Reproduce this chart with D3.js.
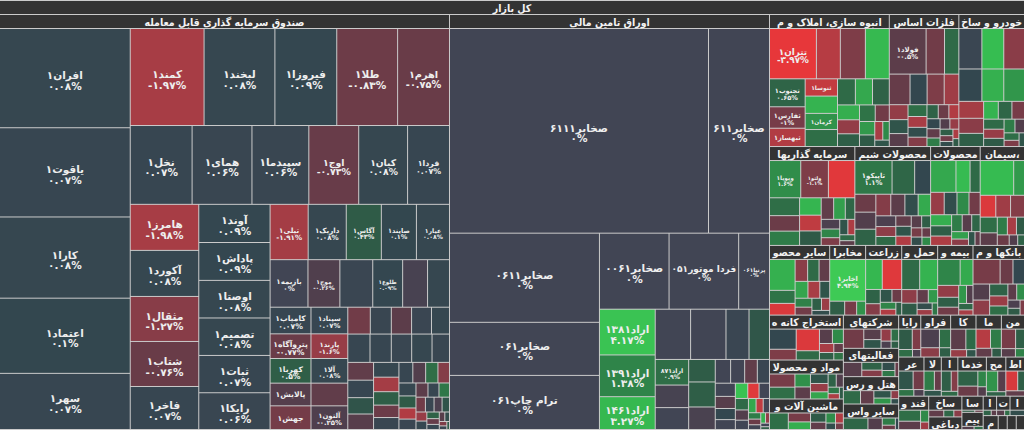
<!DOCTYPE html>
<html lang="fa">
  <head>
    <meta charset="utf-8" />
    <title>نقشه بازار</title>
    <script src="https://cdn.jsdelivr.net/npm/d3@7"></script>
    <style>
      body { margin: 0; background: #fff; }
      svg { display: block; font-family: "DejaVu Sans", sans-serif; }
      .hd { font-family: "DejaVu Sans Condensed", "DejaVu Sans", sans-serif; font-stretch: condensed; }
    </style>
  </head>
  <body>
    <script>
      //Width and height
      var w = 1024;
      var h = 430;

      var rootName = "کل بازار";

      var groupNames = [
        "صندوق سرمایه گذاری قابل معامله", "اوراق تامین مالی",
        "انبوه سازی، املاک و مستغلات", "فلزات اساسی", "خودرو و ساخت قطعات",
        "سرمایه گذاریها", "محصولات شیمیایی", "محصولات غذایی و آشامیدنی به جز قند و شکر", "سیمان، آهک و گچ",
        "سایر محصولات کانی غیرفلزی", "مخابرات", "زراعت و خدمات وابسته", "حمل ونقل، انبارداری و ارتباطات",
        "بیمه وصندوق بازنشستگی به جزتامین اجتماعی", "بانکها و موسسات اعتباری", "استخراج کانه های فلزی",
        "مواد و محصولات دارویی", "ماشین آلات و تجهیزات", "شرکتهای چند رشته ای صنعتی",
        "فعالیتهای کمکی به نهادهای مالی واسط", "هتل و رستوران", "سایر واسطه گریهای مالی",
        "رایانه و فعالیتهای وابسته به آن", "فراورده های نفتی، کک و سوخت هسته ای", "کاشی و سرامیک",
        "ماشین آلات و دستگاههای برقی", "منسوجات", "عرضه برق، گاز، بخاروآب گرم", "لاستیک و پلاستیک",
        "استخراج نفت گاز و خدمات جنبی", "خدمات فنی و مهندسی", "محصولات کاغذی", "اطلاعات و ارتباطات",
        "قند و شکر", "ساخت محصولات فلزی", "دباغی، پرداخت چرم", "ساخت دستگاهها و وسایل ارتباطی",
        "پیمانکاری صنعتی", "استخراج ذغال سنگ", "تولید محصولات کامپیوتری", "انتشار، چاپ و تکثیر",
        "محصولات چوبی", "فعالیت های هنری", "تجارت عمده فروشی", "لوازم خانگی"
      ];

      // symbol names per group (missing = unlabeled cell)
      var leafNames = [
        ["افران۱", "یاقوت۱", "کارا۱", "اعتماد۱", "سهر۱", "کمند۱", "لبخند۱", "فیروزا۱", "طلا۱", "اهرم۱",
         "نخل۱", "همای۱", "سپیدما۱", "اوج۱", "کیان۱", "فردا۱", "هامرز۱", "آکورد۱", "مثقال۱", "شتاب۱",
         "فاخر۱", "آوند۱", "پاداش۱", "اوصتا۱", "تصمیم۱", "ثبات۱", "رایکا۱", "تیلی۱", "داریک۱", "آگاس۱",
         "صایند۱", "عیار۱", "بازیمه۱", "موج۱", "", "طلوع۱", "", "پایا۱", "کامیاب۱", "پتروآگاه۱",
         "کهربا۱", "پالایش۱", "جهش۱", "سپناد۱", "پارند۱", "آلا۱", "", "آلتون۱", "توان۱", "",
         "", "", "", "درین۱", "رابین۱", "", "کاج۱", "", "", "",
         "", "", "", "", "", "تاب۱"],
        ["صخابر۶۱۱۱", "صخابر۶۱۱", "صخابر۰۶۱۱", "صخابر۰۶۱", "ترام چاپ۰۶۱", "صخابر۰۰۶۱", "فردا موتور۰۵۱",
         "پرنیا۰۶۱", "اراد۱۳۸۱", "اراد۱۳۹۱", "اراد۱۴۶۱", "", "", "", "اراد۲۴۱", "اراد۸۷۱"],
        ["تتران۱", "", "", "", "تجنوب۱", "ثفارس۱", "ثبهساز۱", "ثنوسا۱", "", "کرمان۱"],
        ["فولاد۱", "", "", "", "", "ارفع۱"],
        ["", "", "", "", "فنر۱", "ورنا۱"],
        ["وپویا۱", "ولتو۱"],
        ["تاپیکو۱"],
        ["غدیس۱"],
        [], [],
        ["اخابر۱"],
        [], [], [],
        ["", "", "", "", "دی۱"],
        ["", "فزرا۱"]
      ];

      var leafValues = [
        [12870, 11570, 10530, 9750, 7280, 7104, 6816, 5952, 5856, 4992,
         4836, 4680, 4446, 3900, 3822, 3276, 3130, 3130, 3060, 3060,
         2924, 2700, 2680, 2660, 2650, 2640, 2600, 2090, 2090, 1925,
         1925, 1815, 1786, 1504, 1551, 1410, 1175, 1034, 1080, 1000,
         1000, 920, 960, 972, 900, 900, 828, 864, 600, 560,
         540, 530, 480, 624, 598, 572, 572, 490, 455, 447,
         418, 396, 372, 365, 338, 312, 301, 284, 262, 251,
         236, 219, 204, 188, 176, 169, 155, 148, 139, 127,
         118, 109, 98, 91, 82, 71, 63, 52, 44, 33, 27, 21],
        [52577, 12383, 13261, 7897, 8046, 5250, 5250, 2325, 2530, 2310,
         1815, 1763, 1763, 1148, 1020, 850, 748, 726, 594, 660,
         594, 362, 331, 298, 287, 263, 241, 222, 197, 188,
         171, 158, 149, 133, 121, 108, 101, 89, 78, 69,
         58, 49, 41, 31, 24],
        [2530, 1290, 1350, 1290, 1070, 820, 700, 600, 600, 560, 590, 500, 480, 470, 350, 330, 300, 280, 250, 220, 190, 160, 130, 100],
        [1800, 900, 700, 680, 560, 560, 480, 300, 280, 260, 240, 220, 200, 190, 170, 160, 150, 140, 130, 120, 110, 100, 90, 80, 70, 60, 50],
        [1000, 950, 900, 800, 760, 720, 450, 400, 350, 280, 260, 240, 220, 200, 180, 160, 140, 120, 100, 80],
        [1300, 1150, 1100, 600, 520, 480, 420, 380, 350, 300, 280, 230, 200, 180, 160, 140, 120, 100, 80],
        [1400, 850, 600, 420, 400, 380, 360, 340, 320, 300, 240, 220, 200, 180, 170, 160, 140, 120, 110, 100, 90, 80],
        [900, 500, 360, 340, 320, 300, 280, 260, 240, 220, 200, 180, 160, 140, 120, 100, 80],
        [1300, 420, 380, 360, 340, 300, 240, 200, 180, 160, 140, 100, 80],
        [950, 400, 360, 330, 300, 280, 260, 240, 200, 180, 160, 140, 120, 100],
        [1800, 250, 200, 150],
        [600, 700, 250, 200, 180, 150, 130, 110, 90],
        [650, 650, 250, 220, 180, 150, 120, 100, 80],
        [700, 400, 300, 250, 200, 170, 140, 110, 90],
        [800, 380, 340, 320, 300, 260, 220, 200, 170, 150, 120, 100, 80],
        [750, 400, 700, 300, 260, 220, 180, 150, 120, 100],
        [500, 450, 300, 280, 250, 220, 190, 160, 140, 110, 90, 70],
        [550, 350, 300, 250, 200, 170, 140, 110, 90],
        [650, 300, 250, 200, 150, 120, 90],
        [500, 300, 250, 200, 150, 100],
        [450, 350, 250, 200, 120, 80],
        [600, 350, 200, 120, 80],
        [400, 250, 150, 90],
        [500, 300, 250, 150],
        [450, 300, 170, 100],
        [400, 300, 200, 120],
        [400, 250, 170, 110],
        [400, 300, 150, 100],
        [300, 200, 150],
        [300, 200, 120],
        [450, 300, 200, 120],
        [350, 250, 130],
        [350, 200, 150],
        [400, 300, 160, 100],
        [300, 200, 160],
        [250, 150],
        [200, 130],
        [200, 150],
        [150, 100],
        [150, 100],
        [270],
        [120, 80],
        [120],
        [120],
        [110]
      ];

      // daily change, percent
      var leafChanges = [
        [0.08, 0.07, 0.08, 0.1, 0.07, -1.97, 0.08, 0.09, -0.83, -0.75,
         0.07, 0.06, 0.06, -0.73, 0.08, 0.07, -1.98, 0.08, -1.27, -0.76,
         0.07, 0.09, 0.09, 0.08, 0.08, 0.07, 0.06, -1.91, 0.08, 0.43,
         0.1, 0.08, 0, -0.26, 0.05, 0.09, -0.12, 0.08, 0.07, -0.77,
         0.5, -0.35, -0.95, 0.07, -1.6, 0.08, -0.6, -0.25, -0.9, 0.06,
         -0.5, 0.05, 0.08, 0.07, 0.07, 0.06, 0.08, 0.06, -0.6, 0.07,
         0.3, -0.4, 0.08, -1.9, 0.5, -0.8, 0.06, 0.07, -0.3, 0.9,
         -1.2, 0.08, 0.4, -2.2, 0.05, -0.5, 0.07, 1.1, -0.9, 0.06,
         -0.2, 0.3, -1.6, 0.08, 0.6, -0.7, 0.07, -0.4, 0.2, -1.1, 0.05, 0.4],
        [0, 0, 0, 0, 0, 0, 0, 0, 4.17, 1.38,
         3.27, 0, 0, 0.05, 0.34, 0.9, -0.1, 0, 0.45, 0.5,
         -0.15, 0, 0, -0.6, 0.05, 0, -0.4, 0.1, 0, 4.0,
         -3.5, 0, 0.8, -0.3, 0, 2.5, -2.5, 0, 1.2, -0.8,
         0, 3.0, -1.5, 0, 0.5],
        [-3.97, -2.3, -1.1, 3.3, 0.65, -1.0, -2.2, -2.6, 3.0, 1.8, 0.9, 0.8, 2.5, 0.6, 2.8, -1.5, 0.5, 1.0, -0.9, 2.0, 0.4, -2.0, 1.5, 0.3],
        [-0.5, -0.9, 0.8, -0.7, 0.1, -1.1, -1.8, -1.5, 0.3, -0.4, 0.9, -2.0, 0.2, -1.2, 0.6, -0.8, -2.2, 0.1, -0.6, 1.2, -0.3, -1.6, 0.5, -0.9, 0.2, -2.1, 0.4],
        [0.05, 3.5, -1.3, 0.1, 2.9, 1.9, -1.9, -1.3, 0.5, 3.0, 0.7, -1.0, 0.8, -1.6, 0.4, 1.2, -0.3, 0.9, -1.1, 0.3],
        [1.6, -1.1, -3.6, 0.9, -0.8, 1.2, 3.1, -2.5, 0.4, -0.6, 2.2, 0.7, -0.2, 1.4, -1.1, 0.3, -2.1, 0.8, -0.5],
        [1.1, 0.7, 0.1, -0.8, -0.3, 0.6, -1.2, -0.5, 0.2, 2.6, -0.2, -1.4, 0.8, -0.6, 0.3, -2.2, -0.4, 0.5, -1.0, 0.2, -0.7, 1.5],
        [2.5, 3.4, 0.8, -1.6, 0.2, 1.5, -0.9, 2.8, 0.5, -2.1, 1.2, -0.4, 0.7, 2.2, -1.3, 0.3, -0.6],
        [3.4, 2.0, -3.3, -1.8, -1.2, 0.9, -0.5, 1.2, -2.0, 0.4, -0.8, -0.3, 0.6],
        [2.9, 1.0, -3.2, -1.3, 0.8, -0.6, 2.4, -2.0, 0.3, 1.3, -0.9, 0.5, -1.7, 0.2],
        [4.94, 0.5, -1.0, 1.8],
        [3.2, -3.5, 0.6, -1.2, 0.3, -0.8, 1.4, -2.2, 0.5],
        [0.8, 3.0, -1.4, 0.4, -0.6, 2.0, 0.2, -1.8, 1.1],
        [1.4, 2.6, -1.5, 0.5, -0.9, 1.9, -0.3, 0.7, -2.0],
        [-1.0, -0.8, 0.1, -0.3, -1.4, 0.6, -1.7, 0.9, -0.5, 1.6, -0.2, 0.4, -1.1],
        [0.1, -1.1, -3.3, 0.8, -0.4, 1.5, -2.0, 0.5, -0.7, 1.0],
        [-1.0, 0.9, 1.7, -0.5, 0.3, -1.6, 2.4, 0.6, -0.3, 1.1, -2.1, 0.4],
        [0.9, -1.0, 2.8, 0.4, -0.6, 1.6, -2.2, 0.2, -0.9],
        [-0.9, -0.4, 0.3, -1.5, 0.9, -0.2, 0.5],
        [-0.4, 0.6, -1.2, 0.2, 1.1, -0.7],
        [0.8, -0.6, 0.3, 1.9, -1.4, 0.2],
        [0.7, -0.3, 1.2, -0.8, 0.1],
        [0.4, -1.1, 0.9, -0.2],
        [-0.2, 0.9, -1.3, 0.5],
        [-0.5, 0.8, -1.6, 0.3],
        [-2.3, 1.2, -0.6, 0.4],
        [-1.0, 0.5, -0.4, 1.3],
        [0.3, -0.9, 1.0, -0.2],
        [1.2, -0.7, 0.3],
        [0.5, -1.2, 0.8],
        [0.6, -0.8, 1.4, -0.3],
        [1.8, -0.4, 0.6],
        [-3.0, 0.5, -0.6],
        [0.9, -0.5, 1.5, -1.8],
        [-0.6, 0.7, -1.3],
        [-0.9, 0.4],
        [0.5, -0.7],
        [-0.3, 0.8],
        [0.6, -0.5],
        [-0.4, 0.9],
        [0.2],
        [-1.0, 0.3],
        [0.5],
        [-0.6],
        [0.2]
      ];

      var color = d3
        .scaleLinear()
        .domain([-4, -3, -2, -1.3, -0.8, -0.3, 0, 0.1, 0.4, 0.9, 1.5, 2.5, 3.5, 5])
        .range(["#e8373a", "#d63a3d", "#a83d45", "#8a3d48", "#6b3c48", "#523e4c", "#414554",
                "#33474f", "#2f5a47", "#2f6e47", "#2f8a49", "#34a84e", "#36bd51", "#3ecb55"])
        .clamp(true);

      var faDigits = "۰۱۲۳۴۵۶۷۸۹";
      function fmt(c) {
        var s = String(Math.round(c * 100) / 100).replace(/[0-9]/g, function (d) {
          return faDigits[d];
        });
        return s + "%";
      }

      // squarify with the golden ratio
      var phi = (1 + Math.sqrt(5)) / 2;
      function greedyRow(nodes, i0, value, area, span) {
        var alpha = area / (value * span * span * phi);
        var i1 = i0, sum = nodes[i1++].value, lo = sum, hi = sum;
        var best = Math.max(hi / (sum * sum * alpha), (sum * sum * alpha) / lo);
        for (; i1 < nodes.length; ++i1) {
          var v = nodes[i1].value, s = sum + v;
          var l = Math.min(lo, v), hh = Math.max(hi, v), beta = s * s * alpha;
          var m = Math.max(hh / beta, beta / l);
          if (m > best) break;
          sum = s; lo = l; hi = hh; best = m;
        }
        return { i1: i1, sum: sum, best: best };
      }
      function tile(parent, x0, y0, x1, y1) {
        var nodes = parent.children, value = parent.value, i0 = 0, n = nodes.length;
        while (i0 < n) {
          var dx = x1 - x0, dy = y1 - y0, dice, r;
          if (parent.depth === 0) {
            // top level: take whichever orientation gives squarer cells
            var a = greedyRow(nodes, i0, value, dx * dy, dx);
            var b = greedyRow(nodes, i0, value, dx * dy, dy);
            dice = a.best <= b.best;
            r = dice ? a : b;
          } else {
            dice = dx < dy * 1.08;
            r = greedyRow(nodes, i0, value, dx * dy, dice ? dx : dy);
          }
          var row = { value: r.sum, children: nodes.slice(i0, r.i1) };
          if (dice) d3.treemapDice(row, x0, y0, x1, dy ? (y0 += (dy * r.sum) / value) : y1);
          else d3.treemapSlice(row, x0, y0, dx ? (x0 += (dx * r.sum) / value) : x1, y1);
          value -= r.sum;
          i0 = r.i1;
        }
      }

      var data = {
        name: rootName,
        children: groupNames.map(function (g, i) {
          return {
            name: g,
            children: leafValues[i].map(function (v, j) {
              return { name: (leafNames[i] && leafNames[i][j]) || "", value: v, change: leafChanges[i][j] };
            }),
          };
        }),
      };

      var root = d3.hierarchy(data).sum(function (d) { return d.value || 0; });

      d3.treemap()
        .tile(tile)
        .size([w, h - 2])
        .paddingInner(1)
        .paddingTop(function (d) { return d.depth < 2 ? 14 : 0; })(root);

      //Create SVG element
      var svg = d3.select("body").append("svg").attr("width", w).attr("height", h);

      svg.append("rect").attr("width", w).attr("height", h).attr("fill", "#cbcbcb");

      var chart = svg.append("g").attr("transform", "translate(0,1)");

      //Root header
      chart.append("rect")
        .attr("x", root.x0).attr("y", root.y0)
        .attr("width", root.x1 - root.x0).attr("height", 13)
        .attr("fill", "#333333");
      chart.append("text")
        .attr("class", "hd")
        .attr("x", (root.x0 + root.x1) / 2).attr("y", root.y0 + 10.5)
        .attr("text-anchor", "middle").attr("font-size", "10.5px").attr("font-weight", "bold")
        .attr("fill", "#f2f2f2")
        .text(rootName);

      //Cells
      chart.append("g")
        .selectAll("rect")
        .data(root.leaves())
        .enter()
        .append("rect")
        .attr("x", function (d) { return d.x0; })
        .attr("y", function (d) { return d.y0; })
        .attr("width", function (d) { return Math.max(0, d.x1 - d.x0); })
        .attr("height", function (d) { return Math.max(0, d.y1 - d.y0); })
        .attr("fill", function (d) { return color(d.data.change); });

      //Group headers
      var hdr = chart.append("g");
      root.children.forEach(function (g) {
        var bw = g.x1 - g.x0, bh = Math.min(13, g.y1 - g.y0);
        if (bw <= 0 || bh <= 0) return;
        hdr.append("rect")
          .attr("x", g.x0).attr("y", g.y0).attr("width", bw).attr("height", bh)
          .attr("fill", "#333333");
        if (bw < 7 || bh < 10) return;
        var name = g.data.name;
        var t = hdr.append("text")
          .attr("class", "hd")
          .attr("x", (g.x0 + g.x1) / 2).attr("y", g.y0 + 10.5)
          .attr("text-anchor", "middle").attr("font-size", "10.5px").attr("font-weight", "bold")
          .attr("fill", "#f2f2f2")
          .text(name);
        while (name.length > 1 && t.node().getComputedTextLength() > bw - 3) {
          name = name.slice(0, -1);
          t.text(name);
        }
        if (t.node().getComputedTextLength() > bw) t.remove();
      });

      //Labels
      var labels = chart.append("g").attr("fill", "#eeeeee").attr("font-weight", "bold").attr("text-anchor", "middle");
      root.leaves().forEach(function (d) {
        if (!d.data.name) return;
        var cw = d.x1 - d.x0, ch = d.y1 - d.y0;
        var fs = Math.min(10.5, cw / 5.2, ch / 2.6);
        if (fs < 5) return;
        var cx = (d.x0 + d.x1) / 2, cy = (d.y0 + d.y1) / 2;
        var t = labels.append("text").attr("x", cx).attr("font-size", fs + "px").text(d.data.name);
        var len = t.node().getComputedTextLength();
        if (len > cw - 4) {
          fs = (fs * (cw - 4)) / len;
          t.attr("font-size", fs + "px");
        }
        if (fs < 4.5) { t.remove(); return; }
        var two = ch >= fs * 3;
        t.attr("y", two ? cy + fs * 0.1 : cy + fs * 0.38);
        if (two) {
          labels.append("text")
            .attr("x", cx).attr("y", cy + fs * 1.1)
            .attr("font-size", fs + "px")
            .text(fmt(d.data.change));
        }
      });
    </script>
  </body>
</html>
